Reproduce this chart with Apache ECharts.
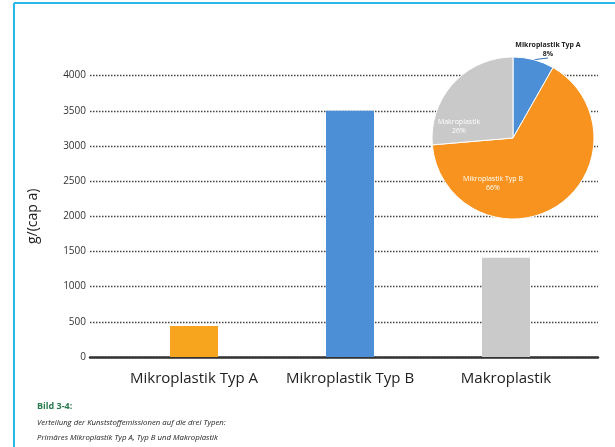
<!DOCTYPE html>
<html>
<head>
<meta charset="utf-8">
<script src="https://cdn.jsdelivr.net/npm/echarts@6/dist/echarts.min.js"></script>
<style>
  html, body { margin: 0; padding: 0; background: #fff; }
  #chart { width: 615px; height: 447px; }
</style>
</head>
<body>
<div id="chart"></div>
<script>
// Kunststoffemissionen je Typ in g/(cap a)
const categories = ['Mikroplastik Typ A', 'Mikroplastik Typ B', 'Makroplastik'];
const emissions = [440, 3500, 1410];
const barColors = ['#f7a51e', '#4d8fd6', '#cacaca'];
const pieColors = ['#4d8fd6', '#f7931e', '#c9c9c9'];
const yTicks = { min: 0, max: 4000, interval: 500 };
const yName = 'g/(cap a)';
const captionTitle = 'Bild 3-4:';
const captionLines = [
  'Verteilung der Kunststoffemissionen auf die drei Typen:',
  'Primäres Mikroplastik Typ A, Typ B und Makroplastik'
];

const font = '"Open Sans", "Noto Sans", sans-serif';
const chart = echarts.init(document.getElementById('chart'), null, { renderer: 'canvas' });

// pie label positions (pixel offsets of each slice label)
const pieLabelPos = [
  { x: 548, y: 49 },
  { x: 493, y: 183 },
  { x: 459, y: 126 }
];

chart.setOption({
  animation: false,
  backgroundColor: '#fff',
  grid: [
    { left: 90, right: 17, top: 75.6, bottom: 90 },
    { left: 116, right: 31, top: 75.6, bottom: 90 }
  ],
  xAxis: [
    {
      gridIndex: 0, type: 'value', min: 0, max: 1,
      axisLine: { show: true, lineStyle: { color: '#333', width: 2.5 } },
      axisTick: { show: false }, axisLabel: { show: false }, splitLine: { show: false }
    },
    {
      gridIndex: 1, type: 'category', data: categories,
      axisLine: { show: false }, axisTick: { show: false },
      axisLabel: { interval: 0, fontSize: 15, color: '#222', fontFamily: font, margin: 14 }
    }
  ],
  yAxis: [
    {
      gridIndex: 0, type: 'value', min: yTicks.min, max: yTicks.max, interval: yTicks.interval,
      name: yName, nameLocation: 'middle', nameGap: 50, nameRotate: 90,
      nameTextStyle: { fontSize: 14, color: '#222', fontFamily: font },
      axisLine: { show: false }, axisTick: { show: false },
      axisLabel: { fontSize: 10, color: '#333', fontFamily: font, margin: 4, formatter: v => String(v) },
      splitLine: { show: true, lineStyle: { color: '#444', width: 1.3, type: [1.5, 1.5] } }
    },
    {
      gridIndex: 1, type: 'value', min: yTicks.min, max: yTicks.max, interval: yTicks.interval,
      show: false, splitLine: { show: false }
    }
  ],
  series: [
    {
      type: 'bar', xAxisIndex: 1, yAxisIndex: 1, barWidth: 48,
      data: emissions.map((v, i) => ({ value: v, itemStyle: { color: barColors[i] } })),
      z: 2
    },
    {
      type: 'pie', center: [513, 138], radius: 81, startAngle: 90, clockwise: true,
      percentPrecision: 0,
      z: 5,
      itemStyle: { borderColor: '#fff', borderWidth: 1 },
      data: categories.map((c, i) => ({
        name: c, value: emissions[i],
        itemStyle: { color: pieColors[i] },
        label: i === 0
          ? { position: 'outside', color: '#222', fontWeight: 'bold' }
          : { position: 'inside', color: '#fff' },
        labelLine: { show: i === 0, length: 4, length2: 0, lineStyle: { color: '#2f6fb5', width: 1 } }
      })),
      label: {
        formatter: '{b}\n{d}%', fontSize: 7, lineHeight: 9, fontFamily: font, align: 'center',
        overflow: 'none', width: 100
      },
      labelLayout: function (p) {
        const pos = pieLabelPos[p.dataIndex];
        return { x: pos.x, y: pos.y, align: 'center', verticalAlign: 'middle' };
      }
    }
  ],
  graphic: [
    { type: 'line', shape: { x1: 14, y1: 3, x2: 14, y2: 447 }, style: { stroke: '#28b8ec', lineWidth: 2 } },
    { type: 'line', shape: { x1: 14, y1: 3, x2: 615, y2: 3 }, style: { stroke: '#28b8ec', lineWidth: 2 } },
    { type: 'text', left: 37, top: 402, style: { text: captionTitle, fill: '#2a7a50', font: 'bold 9px ' + font } },
    { type: 'text', left: 37, top: 419, style: { text: captionLines[0], fill: '#222', font: 'italic 7.8px ' + font } },
    { type: 'text', left: 37, top: 434, style: { text: captionLines[1], fill: '#222', font: 'italic 7.8px ' + font } }
  ]
});
</script>
</body>
</html>
